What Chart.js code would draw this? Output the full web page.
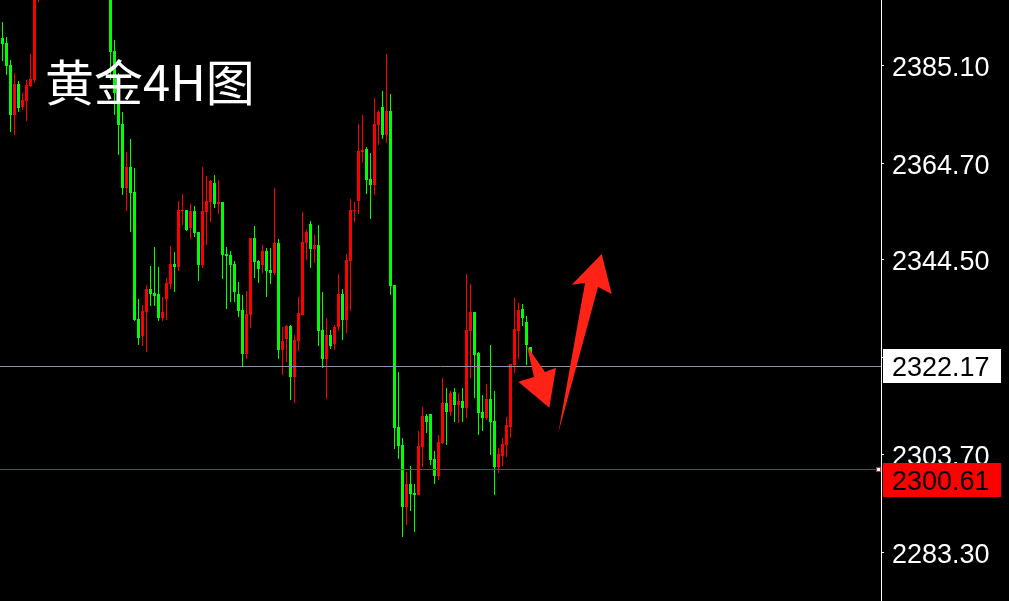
<!DOCTYPE html>
<html><head><meta charset="utf-8">
<script src="https://cdn.jsdelivr.net/npm/chart.js@4.4.1/dist/chart.umd.min.js"></script>
<style>html,body{margin:0;padding:0;background:#000;overflow:hidden}canvas{display:block}</style>
</head><body>
<canvas id="c" width="1009" height="601"></canvas>
<script>
// ---- data (4H candles, left to right) ----
const openP = [2390.96,2389.91,2385.31,2374.84,2381.33,2376.52,2377.77,2380.91,2382.17,2401.00,
2410,2415,2421,2418,2412,2417,2427,2436,2442,2428,
2421,2425,2418,2422,2415,2419,2410,2405,2388.24,2379.03,
2372.96,2359.56,2363.96,2358.73,2332.15,2328.59,2333.61,2338.43,2337.59,2337.38,
2332.36,2336.33,2339.47,2343.66,2343.03,2354.75,2354.96,2351.19,2354.75,2350.35,
2343.45,2354.54,2356.63,2360.61,2356.22,2356.63,2345.75,2345.54,2343.66,2337.38,
2334.03,2324.82,2332.98,2349.10,2344.29,2343.45,2346.38,2342.40,2341.77,2348.05,
2325.66,2327.96,2330.68,2320.01,2327.54,2332.98,2348.05,2352.03,2346.80,2347.63,
2329.84,2323.78,2328.80,2326.91,2330.47,2337.38,2331.94,2344.29,2354.75,2356.84,
2367.10,2367.73,2361.45,2360.19,2372.75,2376.52,2370.66,2375.68,2339.26,2309.54,
2305.78,2292.80,2297.61,2295.73,2295.31,2305.36,2311.85,2312.26,2302.85,2299.29,
2306.19,2314.57,2312.68,2316.87,2314.15,2314.98,2313.52,2329.64,2333.61,2325.03,
2312.68,2311.43,2315.40,2310.80,2301.17,2303.47,2305.78,2309.54,2322.52,2329.64,
2334.24,2331.52,2326.29];
const highP = [2394.31,2391.17,2386.35,2383.63,2381.96,2379.45,2382.17,2387.61,2405.00,2413.00,
2418,2424,2428,2423,2420,2430,2440,2450,2446,2433,
2428,2430,2425,2426,2422,2423,2416,2408,2390.54,2383.63,
2375.47,2367.10,2369.82,2363.75,2336.33,2335.08,2339.26,2343.24,2347.22,2343.03,
2336.75,2340.73,2347.42,2346.17,2356.84,2358.31,2354.96,2356.22,2355.80,2350.35,
2363.96,2362.08,2361.24,2362.28,2361.24,2356.63,2347.22,2346.38,2344.29,2339.89,
2337.17,2338.01,2349.10,2351.61,2344.49,2347.63,2347.01,2347.01,2359.56,2348.89,
2330.47,2330.89,2330.89,2328.80,2336.75,2354.54,2350.98,2352.66,2349.73,2351.82,
2337.80,2332.36,2329.84,2330.89,2341.56,2338.43,2345.75,2357.26,2356.63,2372.96,
2374.84,2368.14,2366.89,2378.40,2375.89,2379.87,2387.61,2379.24,2339.26,2321.05,
2307.24,2300.13,2301.38,2297.61,2308.71,2313.73,2312.26,2312.26,2304.52,2307.87,
2319.80,2317.71,2317.08,2317.71,2316.66,2317.71,2341.56,2339.47,2333.61,2325.24,
2316.24,2318.54,2326.71,2317.08,2305.15,2307.24,2311.64,2322.73,2336.54,2335.50,
2335.29,2332.77,2326.29];
const lowP = [2386.14,2383.21,2371.28,2370.66,2375.47,2375.89,2373.59,2380.70,2381.54,2398.50,
2405,2410,2414,2409,2408,2414,2423,2430,2425,2418,
2414,2415,2410,2412,2408,2406,2402,2382.17,2374.84,2366.47,
2358.10,2354.75,2350.35,2331.73,2326.71,2326.50,2325.24,2334.87,2334.87,2331.73,
2331.73,2331.94,2338.43,2337.80,2342.19,2351.82,2350.56,2348.89,2349.31,2340.10,
2342.82,2347.63,2352.45,2355.38,2354.12,2340.52,2334.24,2335.70,2335.70,2332.57,
2322.31,2323.78,2330.26,2340.73,2339.68,2341.77,2336.75,2339.47,2341.36,2323.78,
2320.43,2323.15,2315.19,2314.57,2325.45,2332.98,2344.49,2342.82,2343.87,2326.50,
2321.89,2315.40,2325.87,2325.66,2329.64,2327.75,2329.22,2333.82,2352.45,2354.12,
2364.80,2358.31,2353.08,2358.10,2368.56,2369.82,2368.98,2337.17,2304.94,2302.85,
2286.52,2289.03,2291.96,2287.57,2295.31,2301.17,2308.29,2301.59,2297.61,2298.45,
2305.99,2305.78,2311.85,2310.59,2310.38,2310.59,2311.43,2319.80,2315.61,2307.87,
2308.71,2311.01,2303.68,2295.31,2299.92,2301.38,2303.26,2307.24,2320.84,2323.78,
2330.68,2322.52,2323.98];
const closeP = [2389.70,2385.10,2374.84,2381.33,2376.31,2377.98,2381.12,2382.38,2402.00,2410.00,
2415,2421,2418,2412,2417,2427,2436,2442,2428,2421,
2425,2418,2422,2415,2419,2410,2405,2388.03,2379.45,2372.75,
2359.56,2363.96,2358.52,2331.94,2328.17,2333.82,2338.43,2337.38,2336.96,2332.36,
2333.61,2339.68,2343.66,2343.03,2354.96,2354.96,2350.77,2354.75,2350.15,2343.45,
2354.75,2356.84,2361.03,2356.22,2356.63,2345.54,2345.33,2343.45,2337.80,2333.82,
2324.82,2333.19,2349.10,2344.08,2342.61,2346.38,2342.19,2341.77,2348.05,2325.66,
2327.54,2330.68,2320.01,2327.75,2333.40,2348.26,2350.35,2346.80,2347.63,2329.64,
2323.78,2328.80,2326.50,2330.47,2337.38,2331.94,2344.49,2354.96,2354.96,2367.31,
2367.52,2361.24,2360.19,2372.96,2375.47,2370.66,2375.68,2339.05,2309.33,2305.57,
2292.80,2297.61,2295.52,2295.31,2305.57,2311.85,2310.59,2302.64,2299.29,2306.40,
2314.57,2312.68,2316.66,2314.15,2314.98,2313.52,2329.84,2333.61,2324.61,2312.47,
2311.43,2315.40,2310.59,2301.17,2303.89,2305.99,2309.96,2322.73,2330.05,2334.03,
2332.36,2326.71,2324.40];
const bars = openP.map((_, i) => i);           // candle slot numbers
const yTicks = [2385.10, 2364.70, 2344.50, 2324.10, 2303.70, 2283.30];
const priceLevels = [2322.17, 2300.61];
const titleText = '黄金4H图';
// annotation arrows, as [slot, price] vertices
const arrowDown = [[131.125,2326.50],[135.625,2321.05],[138.375,2321.95],[136.7,2313.58],[128.95,2319.02],[132.875,2320.01]];
const arrowUp = [[138.95,2308.29],[145.625,2339.68],[142.3,2339.33],[149.8,2345.75],[152.3,2337.38],[148.875,2338.84]];

// ---- styles / scale ----
const Y_MIN = 2273.13, Y_MAX = 2398.91;
const X_MIN = -0.625, X_MAX = 219.625;
const UP = '#ff0000', DOWN = '#00ff00';
const levelStyle = [
  {line:'#8a95a8', box:'#ffffff', text:'#000000', shift:0},
  {line:'#e81010', box:'#ff0000', text:'#000000', shift:11, marker:true}
];
const colorOf = i => closeP[i] >= openP[i] ? UP : DOWN;
const wickData = bars.map((x, i) => ({x, y:[lowP[i], highP[i]]}));
const bodyData = bars.map((x, i) => ({x, y:[openP[i], closeP[i]]}));
const AXIS_FONT = {family:'"Liberation Sans", Arial, sans-serif', size:27};

const overlay = {
  id:'overlay',
  afterDatasetsDraw(chart){
    const {ctx, chartArea:a, scales:{x, y}} = chart;
    ctx.save();
    priceLevels.forEach((v, k) => {
      const py = Math.floor(y.getPixelForValue(v)) + 0.5;
      ctx.strokeStyle = levelStyle[k].line; ctx.lineWidth = 1;
      ctx.beginPath(); ctx.moveTo(a.left, py); ctx.lineTo(a.right, py); ctx.stroke();
    });
    ctx.fillStyle = '#ff2216';
    [arrowDown, arrowUp].forEach(poly => {
      ctx.beginPath();
      poly.forEach(([i, p], k) => {
        const px = x.getPixelForValue(i), py = y.getPixelForValue(p);
        if (k) ctx.lineTo(px, py); else ctx.moveTo(px, py);
      });
      ctx.closePath(); ctx.fill();
    });
    ctx.restore();
  },
  afterDraw(chart){
    const {ctx, chartArea:a, scales:{y}} = chart;
    ctx.save();
    priceLevels.forEach((v, k) => {
      const st = levelStyle[k];
      const py = Math.floor(y.getPixelForValue(v));
      const cy = py + st.shift;
      ctx.fillStyle = st.box;
      ctx.fillRect(a.right + 2, cy - 17, 118, 34);
      ctx.fillStyle = st.text;
      ctx.font = AXIS_FONT.size + 'px ' + AXIS_FONT.family;
      ctx.textBaseline = 'middle'; ctx.textAlign = 'left';
      ctx.fillText(v.toFixed(2), a.right + 11, cy + 3);
      if (st.marker) {
        ctx.fillStyle = '#ffffff'; ctx.fillRect(a.right - 4, py - 1, 3, 3);
        ctx.strokeStyle = st.line; ctx.lineWidth = 1; ctx.strokeRect(a.right - 4.5, py - 1.5, 4, 4);
      }
    });
    ctx.fillStyle = '#ffffff';
    ctx.font = '49px "Noto Sans CJK SC", sans-serif';
    ctx.textBaseline = 'alphabetic'; ctx.textAlign = 'left';
    ctx.fillText(titleText, 45, 101);
    ctx.restore();
  }
};

const common = {borderWidth:0, inflateAmount:0, grouped:false, minBarLength:1, clip:0, borderSkipped:false};
new Chart(document.getElementById('c'), {
  type:'bar',
  data:{datasets:[
    Object.assign({data:wickData, backgroundColor:bars.map(colorOf), barThickness:1, maxBarThickness:1}, common),
    Object.assign({data:bodyData, backgroundColor:bars.map(colorOf), barThickness:3, maxBarThickness:3}, common)
  ]},
  options:{
    responsive:false, animation:false, devicePixelRatio:1,
    layout:{padding:0},
    events:[],
    plugins:{legend:{display:false}, tooltip:{enabled:false}, title:{display:false}},
    scales:{
      x:{type:'linear', min:X_MIN, max:X_MAX, display:false, offset:false},
      y:{
        position:'right', min:Y_MIN, max:Y_MAX,
        afterBuildTicks: s => { s.ticks = yTicks.map(v => ({value:v})); },
        afterFit: s => { s.width = 128; s.paddingTop = 0; s.paddingBottom = 0; },
        ticks:{color:'#ffffff', font:AXIS_FONT, padding:8, labelOffset:3, autoSkip:false, callback: v => Number(v).toFixed(2)},
        grid:{drawOnChartArea:false, drawTicks:true, tickLength:3, tickColor:'#ffffff', color:'#ffffff'},
        border:{display:true, color:'#ffffff', width:1}
      }
    }
  },
  plugins:[overlay]
});
</script>
</body></html>
